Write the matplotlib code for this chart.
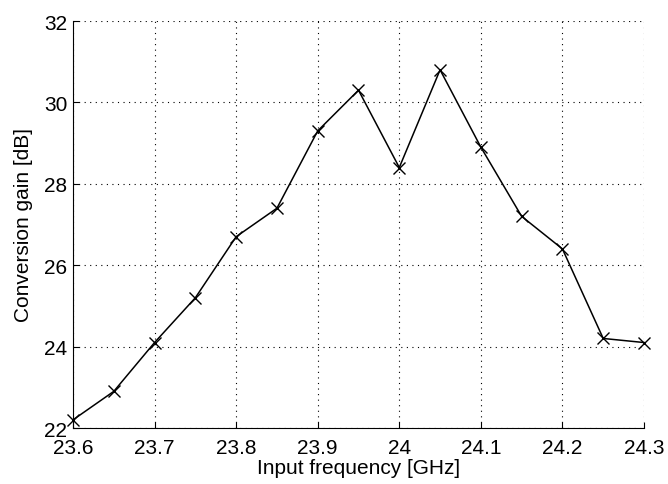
import matplotlib
matplotlib.use("Agg")
import matplotlib.pyplot as plt

freq = [23.6, 23.65, 23.7, 23.75, 23.8, 23.85, 23.9, 23.95,
        24.0, 24.05, 24.1, 24.15, 24.2, 24.25, 24.3]
gain = [22.2, 22.9, 24.1, 25.2, 26.7, 27.4, 29.3, 30.3,
        28.4, 30.8, 28.9, 27.2, 26.4, 24.2, 24.1]
xticks = [23.6, 23.7, 23.8, 23.9, 24.0, 24.1, 24.2, 24.3]
xticklabels = ["23.6", "23.7", "23.8", "23.9", "24", "24.1", "24.2", "24.3"]
yticks = [22, 24, 26, 28, 30, 32]

plt.rcParams['font.family'] = ['Liberation Sans', 'DejaVu Sans']

fig = plt.figure(figsize=(6.68, 4.85), dpi=100)
ax = fig.add_axes([73 / 668, 1 - 429 / 485, 571 / 668, 407 / 485])

ax.plot(freq, gain, color='black', lw=1.1, marker='x', ms=8, mew=1.0,
        clip_on=False)

ax.set_xlim(23.6, 24.3)
ax.set_ylim(22, 32)
ax.set_xticks(xticks)
ax.set_xticklabels(xticklabels)
ax.set_yticks(yticks)
ax.tick_params(direction='in', labelsize=15, length=4)
ax.tick_params(axis='x', pad=7)
ax.tick_params(axis='y', pad=4)
ax.grid(True, linestyle=(0, (1, 4)), color='black', lw=0.8)
ax.spines['top'].set_visible(False)
ax.spines['right'].set_visible(False)
ax.set_xlabel('Input frequency [GHz]', fontsize=15, labelpad=1)
ax.set_ylabel('Conversion gain [dB]', fontsize=15, labelpad=8)

fig.savefig('out.png', dpi=100)
